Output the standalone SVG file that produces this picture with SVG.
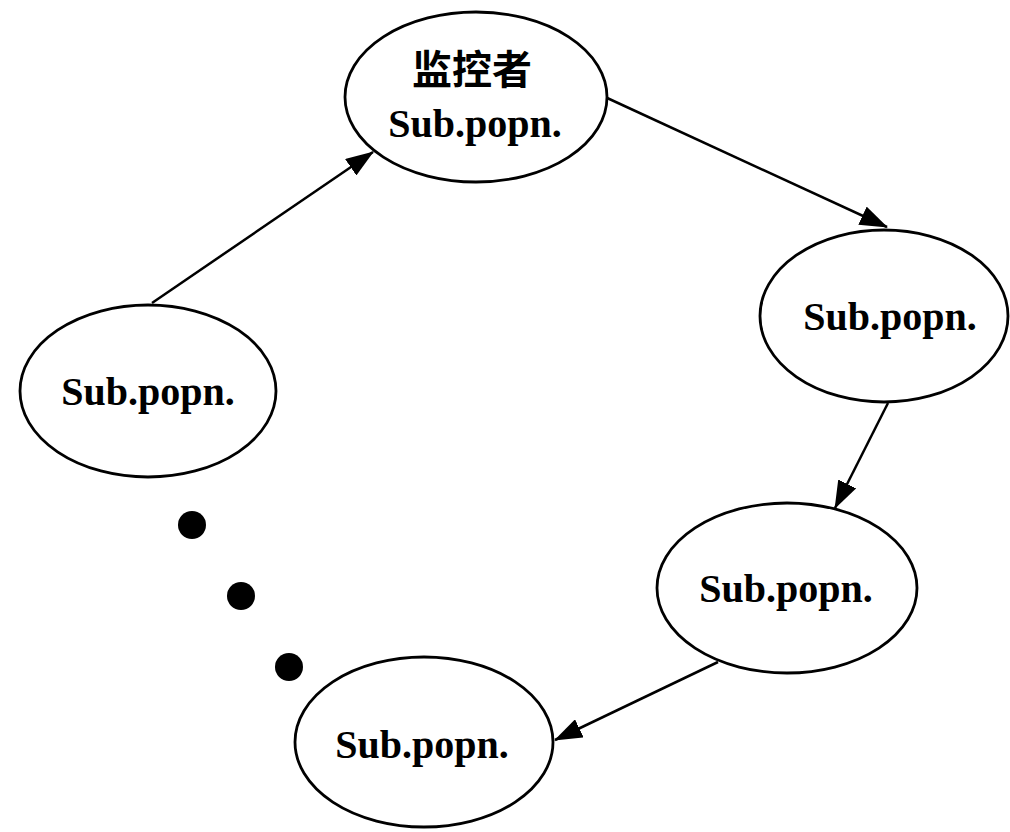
<svg xmlns="http://www.w3.org/2000/svg" width="1010" height="832" viewBox="0 0 1010 832">
  <style>
    .node { fill: #fff; stroke: #000; stroke-width: 2.8; }
    .lbl { font-family: "Liberation Serif", "Times New Roman", serif; font-weight: bold; font-size: 40px; text-anchor: middle; fill: #000; }
    .cjk { font-family: "Noto Sans CJK SC", "Noto Sans CJK TC", sans-serif; font-weight: bold; font-size: 40px; text-anchor: middle; fill: #000; }
    .edge { fill: none; stroke: #000; stroke-width: 2.5; marker-end: url(#head); }
    .dot { fill: #000; }
  </style>
  <defs>
    <marker id="head" viewBox="0 0 28 20" refX="27" refY="10" markerWidth="28" markerHeight="20" markerUnits="userSpaceOnUse" orient="auto">
      <path d="M0,0 L28,10 L0,20 z" fill="#000"/>
    </marker>
  </defs>

  <rect width="1010" height="832" fill="#fff"/>

  <!-- connectors -->
  <g id="edges">
    <line class="edge" x1="152" y1="303" x2="373" y2="152"/>
    <line class="edge" x1="605" y1="97" x2="887" y2="227"/>
    <line class="edge" x1="888" y1="403" x2="835" y2="508"/>
    <line class="edge" x1="718" y1="662" x2="555" y2="740"/>
  </g>

  <!-- nodes -->
  <g id="monitor">
    <ellipse class="node" cx="476" cy="97" rx="131" ry="85"/>
    <text class="cjk" x="472" y="84">监控者</text>
    <text class="lbl" x="475" y="137">Sub.popn.</text>
  </g>
  <g id="sub-right">
    <ellipse class="node" cx="884" cy="316" rx="124" ry="86"/>
    <text class="lbl" x="890" y="330">Sub.popn.</text>
  </g>
  <g id="sub-left">
    <ellipse class="node" cx="148" cy="391" rx="128" ry="86"/>
    <text class="lbl" x="148" y="405">Sub.popn.</text>
  </g>
  <g id="sub-lower-right">
    <ellipse class="node" cx="787" cy="588" rx="130" ry="85"/>
    <text class="lbl" x="786" y="602">Sub.popn.</text>
  </g>
  <g id="sub-bottom">
    <ellipse class="node" cx="424" cy="742" rx="129" ry="85"/>
    <text class="lbl" x="422" y="758">Sub.popn.</text>
  </g>

  <!-- ellipsis dots -->
  <g id="ellipsis">
    <circle class="dot" cx="192" cy="525" r="14"/>
    <circle class="dot" cx="241" cy="596" r="14"/>
    <circle class="dot" cx="289" cy="667" r="14"/>
  </g>
</svg>
